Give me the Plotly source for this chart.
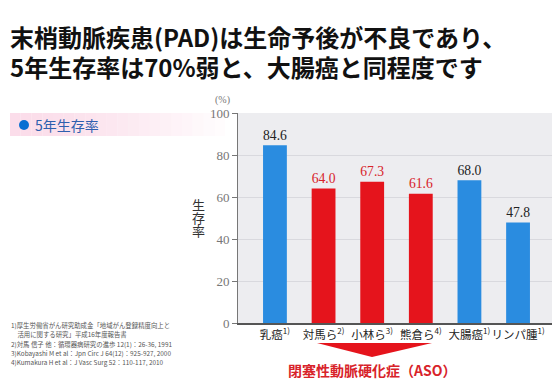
import plotly.graph_objects as go

# ---- data ----
categories = ["乳癌<sup>1)</sup>", "対馬ら<sup>2)</sup>", "小林ら<sup>3)</sup>",
              "熊倉ら<sup>4)</sup>", "大腸癌<sup>1)</sup>", "リンパ腫<sup>1)</sup>"]
values = [84.6, 64.0, 67.3, 61.6, 68.0, 47.8]
is_aso = [False, True, True, True, False, False]
y_ticks = [0, 20, 40, 60, 80, 100]
title_lines = ["末梢動脈疾患(PAD)は生命予後が不良であり、",
               "5年生存率は70%弱と、大腸癌と同程度です"]
references = ["1)厚生労働省がん研究助成金「地域がん登録精度向上と",
              "　活用に関する研究」平成16年度報告書",
              "2)対馬 信子 他：循環器病研究の進歩 12(1)：26-36, 1991",
              "3)Kobayashi M et al：Jpn Circ J 64(12)：925-927, 2000",
              "4)Kumakura H et al：J Vasc Surg 52：110-117, 2010"]

# page body has an 8px default margin, so the figure is sized/shifted to compensate
OFF = 8
W, H = 560 - OFF, 382 - OFF
L, R, T, B = 238 - OFF, 5, 113 - OFF, 59
PW, PH = W - L - R, H - T - B

def px(x):  # screen pixel x -> paper
    return (x - OFF - L) / PW

def py(y):  # screen pixel y -> paper
    return (H - B - (y - OFF)) / PH

BLUE = "#2a8ce0"
RED = "#e5141c"
RED_TXT = "#d8232a"
SERIF = "Liberation Serif, DejaVu Serif, serif"
CJK = "Noto Sans CJK JP, sans-serif"

fig = go.Figure()
fig.add_trace(go.Bar(
    x=categories, y=values,
    marker=dict(color=[RED if a else BLUE for a in is_aso], line=dict(width=0)),
    width=0.49,
    texttemplate="%{y:.1f}", textposition="outside", cliponaxis=False,
    textfont=dict(family=SERIF,
                  color=[RED_TXT if a else "#222222" for a in is_aso],
                  size=[18 if a else 16 for a in is_aso]),
    hoverinfo="skip",
))

fig.update_layout(
    width=W, height=H,
    margin=dict(l=L, r=R, t=T, b=B, autoexpand=False),
    paper_bgcolor="white", plot_bgcolor="#ededf0",
    showlegend=False,
    xaxis=dict(range=[-0.76, 5.76], showline=True, linecolor="#555", linewidth=1.5,
               ticks="", tickangle=0, automargin=False,
               tickfont=dict(family=CJK, size=11.5, color="#222"),
               showgrid=False, fixedrange=True),
    yaxis=dict(range=[0, 100], tickvals=y_ticks, showline=True, linecolor="#777",
               linewidth=1, ticks="outside", ticklen=5, tickcolor="#777",
               automargin=False,
               tickfont=dict(family=SERIF, size=13, color="#777"),
               showgrid=True, gridcolor="#d9d9de", gridwidth=1, zeroline=False,
               fixedrange=True),
)

shapes = []
# pink header band (gradient imitation)
n = 20
x0, x1 = 10, 225
for i in range(n):
    a = 1 - (i / n) ** 1.5
    shapes.append(dict(type="rect", xref="paper", yref="paper",
                       x0=px(x0 + (x1 - x0) * i / n), x1=px(x0 + (x1 - x0) * (i + 1) / n),
                       y0=py(136), y1=py(113), line=dict(width=0),
                       fillcolor=f"rgba(250,215,230,{0.85 * a:.3f})", layer="below"))
shapes.append(dict(type="circle", xref="paper", yref="paper",
                   x0=px(19), x1=px(29), y0=py(130), y1=py(120),
                   fillcolor="#0a6fd2", line=dict(width=0)))
# red arrow under ASO studies
shapes.append(dict(type="path", xref="paper", yref="paper",
                   path=f"M {px(317)},{py(343)} L {px(432)},{py(343)} L {px(372)},{py(357)} Z",
                   fillcolor=RED, line=dict(width=0)))
fig.update_layout(shapes=shapes)

def note(text, x, y, size, color, family=CJK, xanchor="left", weight="normal"):
    return dict(text=text, x=px(x), y=py(y), xanchor=xanchor, yanchor="middle",
                font=dict(family=family, size=size, color=color, weight=weight),
                showarrow=False, xref="paper", yref="paper")

ann = [
    note(title_lines[0], 8, 36, 24, "#111", weight="bold"),
    note(title_lines[1], 8, 67, 24, "#111", weight="bold"),
    note("5年生存率", 33, 125, 14, "#2f5fae"),
    note("(%)", 222, 100, 10, "#777", family=SERIF, xanchor="center"),
    note("閉塞性動脈硬化症（ASO）", 372, 370, 14, RED_TXT, xanchor="center", weight="bold"),
]
for ch, yy in zip("生存率", [204, 217, 230]):
    ann.append(note(ch, 198, yy, 13, "#333", xanchor="center"))
ref_y = [325, 334, 344, 353, 362]
for t, yy in zip(references, ref_y):
    ann.append(note(t, 9, yy, 6.4, "#555"))
fig.update_layout(annotations=ann)

fig.write_html("out.html")
